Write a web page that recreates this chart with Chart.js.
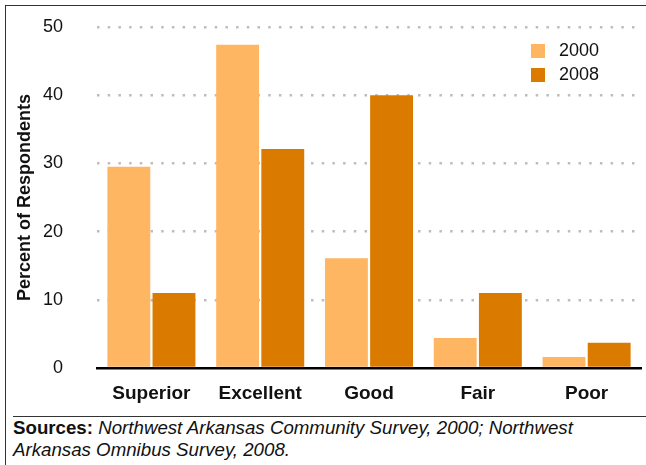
<!DOCTYPE html>
<html>
<head>
<meta charset="utf-8">
<script src="https://cdn.jsdelivr.net/npm/chart.js@4"></script>
<style>
  body { margin: 0; background: #fff; }
  #wrap { position: relative; width: 646px; height: 465px; overflow: hidden; font-family: 'Liberation Sans', Arial, Helvetica, sans-serif; }
  #frame { position: absolute; left: 5px; top: 5px; right: -2px; bottom: -2px; border-left: 1.5px solid #333; border-top: 1.5px solid #333; }
  #chart { position: absolute; left: 0; top: 0; }
  #sep { position: absolute; left: 13px; right: 0; top: 416px; border-top: 1.5px solid #333; }
  #sources { position: absolute; left: 13px; top: 417px; font-size: 18.7px; line-height: 22px; color: #111; }
  #sources b { font-weight: bold; }
</style>
</head>
<body>
<div id="wrap">
  <div id="frame"></div>
  <canvas id="chart" width="646" height="410"></canvas>
  <div id="sep"></div>
  <div id="sources"><b>Sources:</b> <i>Northwest Arkansas Community Survey, 2000; Northwest<br>Arkansas Omnibus Survey, 2008.</i></div>
</div>
<script>
const categories = ['Superior', 'Excellent', 'Good', 'Fair', 'Poor'];
const seriesNames = ['2000', '2008'];
const values2000 = [29.5, 47.4, 16.1, 4.4, 1.6];
const values2008 = [11.0, 32.1, 40.0, 11.0, 3.7];
const yTicks = [0, 10, 20, 30, 40, 50];

const FONT = "'Liberation Sans', Arial, Helvetica, sans-serif";

// legend drawn inside the plot, top right
const insideLegend = {
  id: 'insideLegend',
  afterDraw(chart) {
    const ctx = chart.ctx;
    ctx.save();
    ctx.font = '18px ' + FONT;
    ctx.textBaseline = 'middle';
    chart.data.datasets.forEach((ds, i) => {
      const y = 44 + i * 24;
      ctx.fillStyle = ds.backgroundColor;
      ctx.fillRect(531, y, 14, 14);
      ctx.fillStyle = '#111';
      ctx.fillText(ds.label, 559, y + 7.5);
    });
    ctx.restore();
  }
};

new Chart(document.getElementById('chart'), {
  type: 'bar',
  data: {
    labels: categories,
    datasets: [
      { label: seriesNames[0], data: values2000, backgroundColor: '#FEB663' },
      { label: seriesNames[1], data: values2008, backgroundColor: '#DA7B00' }
    ]
  },
  options: {
    responsive: false,
    animation: false,
    devicePixelRatio: 1,
    categoryPercentage: 0.83,
    barPercentage: 0.95,
    layout: { padding: { left: 0, right: 5, top: 27, bottom: 0 } },
    plugins: {
      legend: { display: false },
      tooltip: { enabled: false }
    },
    scales: {
      x: {
        grid: { display: false, drawTicks: false },
        border: { display: true, color: '#000', width: 2.5 },
        ticks: { color: '#111', padding: 14, font: { family: FONT, size: 19, weight: 'bold' } },
        afterFit(scale) { scale.height = 42; }
      },
      y: {
        min: 0,
        max: 50,
        afterBuildTicks(scale) { scale.ticks = yTicks.map(v => ({ value: v })); },
        grid: {
          drawTicks: false,
          lineWidth: 2.5,
          color: ctx => ctx.tick && ctx.tick.value === 0 ? 'rgba(0,0,0,0)' : '#BDBDBD'
        },
        border: { display: false, dash: [2.5, 8.2] },
        ticks: { color: '#111', padding: 34, font: { family: FONT, size: 18 } },
        title: {
          display: true,
          text: 'Percent of Respondents',
          color: '#111',
          padding: { top: 14, bottom: 0 },
          font: { family: FONT, size: 18, weight: 'bold' }
        },
        afterFit(scale) {
          scale.width = 97;
          scale.paddingTop = 0;
          scale.paddingBottom = 0;
        }
      }
    }
  },
  plugins: [insideLegend]
});
</script>
</body>
</html>
